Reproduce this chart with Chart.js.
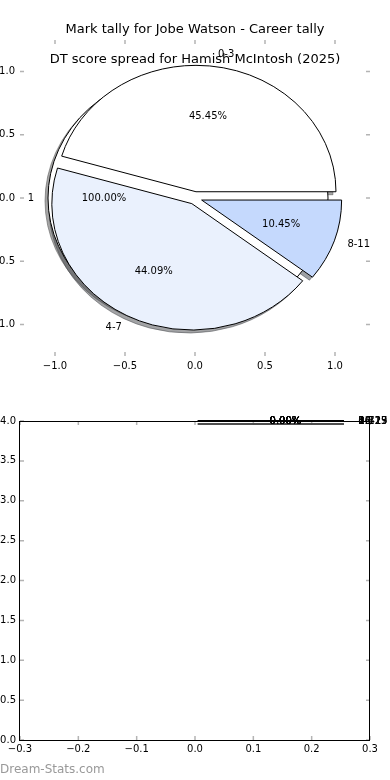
<!DOCTYPE html>
<html>
<head>
<meta charset="utf-8">
<script src="https://cdn.jsdelivr.net/npm/chart.js@4.4.1/dist/chart.umd.min.js"></script>
<style>
  html, body { margin: 0; padding: 0; background: #fff; }
  .panel { width: 390px; height: 390px; }
  #marca { position: absolute; left: 0; top: 762px; font: 12px "DejaVu Sans"; color: #999; }
</style>
</head>
<body>
<div class="panel"><canvas id="arriba" width="390" height="390"></canvas></div>
<div class="panel"><canvas id="abajo" width="390" height="390"></canvas></div>
<div id="marca">Dream-Stats.com</div>
<script>
// Datos
const titulo1 = "Mark tally for Jobe Watson - Career tally";
const titulo2 = "DT score spread for Hamish McIntosh (2025)";

const marcasEtiquetas = ["1"];
const marcasValores = [100];

const dtEtiquetas = ["0-3", "4-7", "8-11"];
const dtValores = [45.45, 44.09, 10.45];

const vacioEtiquetas = ["0-3", "4-7", "8-11", "12-15", "16-19", "20-23", "24-27"];
const vacioValores = [0, 0, 0, 0, 0, 0, 0];

const ticksTartaX = [-1.0, -0.5, 0.0, 0.5, 1.0];
const ticksTartaY = [-1.0, -0.5, 0.0, 0.5, 1.0];
const ticksVacioX = [-0.3, -0.2, -0.1, 0.0, 0.1, 0.2, 0.3];
const ticksVacioY = [0.0, 0.5, 1.0, 1.5, 2.0, 2.5, 3.0, 3.5, 4.0];

const fuente = "DejaVu Sans";

function fmt(v) {
  const s = Number(v).toFixed(1);
  return s === "-0.0" ? "0.0" : s.replace("-", "\u2212");
}

function sombraDe(hex) {
  const n = parseInt(hex.slice(1), 16);
  const r = Math.round(((n >> 16) & 255) * 0.3);
  const g = Math.round(((n >> 8) & 255) * 0.3);
  const b = Math.round((n & 255) * 0.3);
  return `rgba(${r},${g},${b},0.5)`;
}

// geometría de una tarta en píxeles, a partir de las escalas
function geometria(chart, t) {
  const x = chart.scales.x, y = chart.scales.y;
  const ux = Math.abs(x.getPixelForValue(1) - x.getPixelForValue(0));
  const uy = Math.abs(y.getPixelForValue(0) - y.getPixelForValue(1));
  const rx = t.radioX * ux, ry = t.radioY * uy;
  const total = t.valores.reduce((a, b) => a + b, 0);
  let ang = 0;
  const cunas = t.valores.map((v, i) => {
    const barrido = total ? 360 * v / total : 0;
    const t1 = ang, t2 = ang + barrido;
    ang = t2;
    const m = (t1 + t2) / 2 * Math.PI / 180;
    const cx = x.getPixelForValue(t.centro[0] + t.explotar * t.radioX * Math.cos(m));
    const cy = y.getPixelForValue(t.centro[1] + t.explotar * t.radioY * Math.sin(m));
    const pct = total ? (100 * v / total).toFixed(2) + "%" : "0.00%";
    return { t1, t2, m, cx, cy, pct, etiqueta: t.etiquetas[i], color: t.colores[i % t.colores.length] };
  });
  return { rx, ry, cunas };
}

function trazar(ctx, g, c, dx, dy) {
  ctx.beginPath();
  if (c.t2 - c.t1 >= 359.999) {
    ctx.ellipse(c.cx + dx, c.cy + dy, g.rx, g.ry, 0, 0, 2 * Math.PI);
  } else {
    ctx.moveTo(c.cx + dx, c.cy + dy);
    ctx.ellipse(c.cx + dx, c.cy + dy, g.rx, g.ry, 0, -c.t1 * Math.PI / 180, -c.t2 * Math.PI / 180, true);
    ctx.closePath();
  }
}

function pluginTartas(tartas, sombra) {
  return {
    id: "tartas",
    afterDatasetsDraw(chart) {
      const ctx = chart.ctx;
      const geos = tartas.map(t => geometria(chart, t));
      ctx.save();
      ctx.lineWidth = 1;
      // sombras debajo de todo
      geos.forEach(g => g.cunas.forEach(c => {
        trazar(ctx, g, c, sombra.dx, sombra.dy);
        ctx.fillStyle = sombraDe(c.color);
        ctx.strokeStyle = sombraDe(c.color);
        ctx.fill();
        ctx.stroke();
      }));
      // cuñas
      geos.forEach(g => g.cunas.forEach(c => {
        trazar(ctx, g, c, 0, 0);
        ctx.fillStyle = c.color;
        ctx.fill();
        ctx.strokeStyle = "#000";
        ctx.stroke();
      }));
      // textos
      ctx.fillStyle = "#000";
      ctx.font = "10px '" + fuente + "'";
      ctx.textBaseline = "middle";
      geos.forEach(g => g.cunas.forEach(c => {
        const cs = Math.cos(c.m), sn = Math.sin(c.m);
        ctx.textAlign = "center";
        ctx.fillText(c.pct, c.cx + 0.6 * g.rx * cs, c.cy - 0.6 * g.ry * sn);
        ctx.textAlign = cs > 0 ? "left" : "right";
        ctx.fillText(c.etiqueta, c.cx + 1.1 * g.rx * cs, c.cy - 1.1 * g.ry * sn);
      }));
      ctx.restore();
    }
  };
}

// marcas de tick hacia dentro, en los cuatro lados
const marcasDentro = {
  id: "marcasDentro",
  afterDatasetsDraw(chart) {
    const { ctx, chartArea: a, scales: { x, y } } = chart;
    ctx.save();
    ctx.strokeStyle = "#b4b4b4";
    ctx.lineWidth = 1.5;
    ctx.beginPath();
    x.ticks.forEach(t => {
      const p = x.getPixelForValue(t.value);
      ctx.moveTo(p, a.bottom); ctx.lineTo(p, a.bottom - 4);
      ctx.moveTo(p, a.top); ctx.lineTo(p, a.top + 4);
    });
    y.ticks.forEach(t => {
      const p = y.getPixelForValue(t.value);
      ctx.moveTo(a.left, p); ctx.lineTo(a.left + 4, p);
      ctx.moveTo(a.right, p); ctx.lineTo(a.right - 4, p);
    });
    ctx.stroke();
    ctx.restore();
  }
};

const marco = {
  id: "marco",
  afterDatasetsDraw(chart) {
    const { ctx, chartArea: a } = chart;
    ctx.save();
    ctx.strokeStyle = "#000";
    ctx.lineWidth = 1;
    ctx.strokeRect(a.left - 0.5, a.top + 0.5, a.right - a.left, a.bottom - a.top);
    ctx.restore();
  }
};

const titulos = {
  id: "titulos",
  afterDraw(chart) {
    const ctx = chart.ctx;
    ctx.save();
    ctx.fillStyle = "#000";
    ctx.font = "13px '" + fuente + "'";
    ctx.textAlign = "center";
    ctx.textBaseline = "middle";
    ctx.fillText(titulo1, 195, 30);
    ctx.fillText(titulo2, 195, 60);
    ctx.restore();
  }
};

function escala(min, max, ticks, ancho, alto, pad) {
  return {
    type: "linear",
    min: min,
    max: max,
    grid: { display: false, drawTicks: false },
    border: { display: false },
    ticks: {
      color: "#000",
      font: { family: fuente, size: 10 },
      padding: pad,
      autoSkip: false,
      maxRotation: 0,
      callback: v => fmt(v)
    },
    afterBuildTicks: s => { s.ticks = ticks.map(v => ({ value: v })); },
    afterFit: s => {
      if (ancho != null) s.width = ancho;
      if (alto != null) s.height = alto;
    }
  };
}

// Gráfico de arriba: las dos tartas superpuestas
new Chart(document.getElementById("arriba"), {
  type: "scatter",
  data: { datasets: [] },
  options: {
    responsive: false,
    animation: false,
    layout: { padding: { top: 40, right: 20, left: 0, bottom: 0 } },
    plugins: { legend: { display: false }, tooltip: { enabled: false } },
    scales: {
      x: escala(-1.25, 1.25, ticksTartaX, null, 34, 4),
      y: escala(-1.25, 1.25, ticksTartaY, 20, null, 5)
    }
  },
  plugins: [
    pluginTartas([
      { etiquetas: marcasEtiquetas, valores: marcasValores, colores: ["#ffffff"],
        centro: [0, 0], radioX: 1, radioY: 1, explotar: 0.05 },
      { etiquetas: dtEtiquetas, valores: dtValores, colores: ["#ffffff", "#eaf1fd", "#c5d9fd"],
        centro: [0, 0], radioX: 1, radioY: 1, explotar: 0.05 }
    ], { dx: -3, dy: 3 }),
    marcasDentro,
    titulos
  ]
});

// Gráfico de abajo: ejes vacíos con la tarta aplastada arriba
new Chart(document.getElementById("abajo"), {
  type: "scatter",
  data: { datasets: [] },
  options: {
    responsive: false,
    animation: false,
    layout: { padding: { top: 31, right: 20, left: 0, bottom: 0 } },
    plugins: { legend: { display: false }, tooltip: { enabled: false } },
    scales: {
      x: escala(-0.3, 0.3, ticksVacioX, null, 40, 3),
      y: escala(0, 4, ticksVacioY, 20, null, 4)
    }
  },
  plugins: [
    marcasDentro,
    marco,
    pluginTartas([
      { etiquetas: vacioEtiquetas, valores: vacioValores, colores: ["#ffffff"],
        centro: [0.005, 4], radioX: 0.25, radioY: 0, explotar: 0 }
    ], { dx: 0, dy: 3 })
  ]
});
</script>
</body>
</html>
